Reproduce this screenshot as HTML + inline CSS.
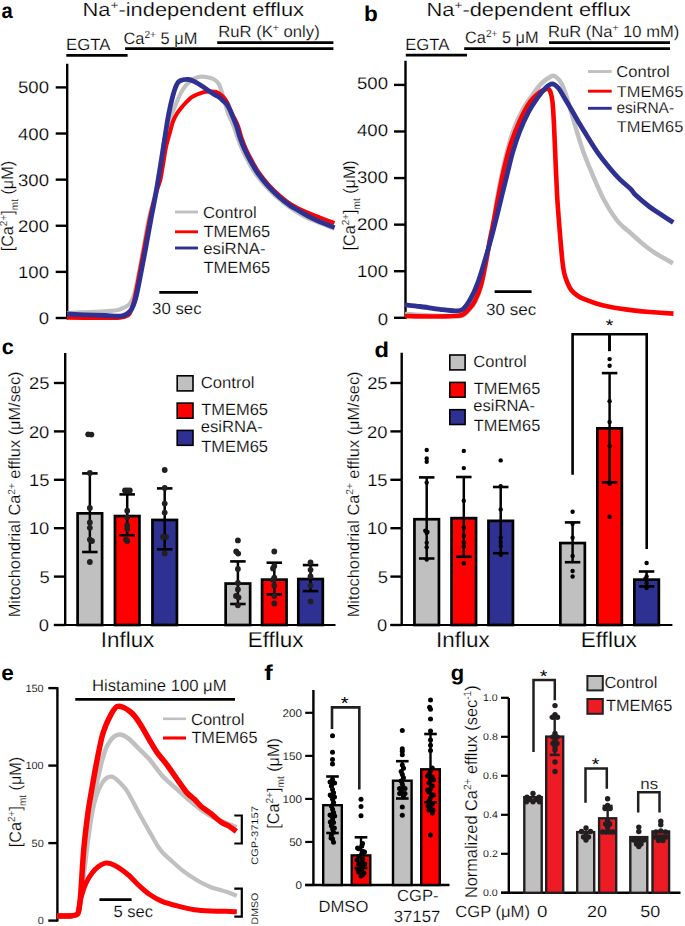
<!DOCTYPE html>
<html><head><meta charset="utf-8"><style>
html,body{margin:0;padding:0;background:#fff;}
body{width:685px;height:926px;overflow:hidden;}
svg{display:block;font-family:"Liberation Sans", sans-serif;text-rendering:geometricPrecision;}
</style></head><body>
<svg width="685" height="926" viewBox="0 0 685 926">
<rect width="685" height="926" fill="#fff"/>
<text x="0" y="0" font-size="21.5" font-weight="bold" fill="#000" transform="translate(1.44,18.00) scale(0.9385,1)"><tspan dy="0.00" font-size="21.50">a</tspan></text>
<text x="0" y="0" font-size="19" font-weight="normal" fill="#000" stroke="#fff" stroke-width="0.2" transform="translate(82.58,16.10) scale(1.1506,1)"><tspan dy="0.00" font-size="19.00">Na</tspan><tspan dy="-6.84" font-size="11.78">+</tspan><tspan dy="6.84" font-size="19.00">-independent efflux</tspan></text>
<text x="0" y="0" font-size="16.3" font-weight="normal" fill="#000" stroke="#fff" stroke-width="0.2" transform="translate(66.05,49.80) scale(1.0259,1)"><tspan dy="0.00" font-size="16.30">EGTA</tspan></text>
<line x1="66.30" y1="55.40" x2="127.60" y2="55.40" stroke="#000" stroke-width="2.8" stroke-linecap="butt"/>
<line x1="125.10" y1="48.70" x2="333.40" y2="48.70" stroke="#000" stroke-width="2.8" stroke-linecap="butt"/>
<text x="0" y="0" font-size="16.6" font-weight="normal" fill="#000" stroke="#fff" stroke-width="0.2" transform="translate(123.53,43.50) scale(0.9871,1)"><tspan dy="0.00" font-size="16.60">Ca</tspan><tspan dy="-5.98" font-size="10.29">2+</tspan><tspan dy="5.98" font-size="16.60"> 5 μM</tspan></text>
<line x1="217.20" y1="42.70" x2="333.40" y2="42.70" stroke="#000" stroke-width="2.8" stroke-linecap="butt"/>
<text x="0" y="0" font-size="16.2" font-weight="normal" fill="#000" stroke="#fff" stroke-width="0.2" transform="translate(218.16,36.70) scale(1.0307,1)"><tspan dy="0.00" font-size="16.20">RuR (K</tspan><tspan dy="-5.83" font-size="10.04">+</tspan><tspan dy="5.83" font-size="16.20"> only)</tspan></text>
<line x1="67.20" y1="63.70" x2="67.20" y2="319.20" stroke="#000" stroke-width="2.4" stroke-linecap="butt"/>
<line x1="55.70" y1="318.00" x2="67.20" y2="318.00" stroke="#000" stroke-width="2.4" stroke-linecap="butt"/>
<text x="0" y="0" font-size="16.9" font-weight="normal" fill="#000" stroke="#fff" stroke-width="0.2" transform="translate(38.67,324.00) scale(1.1000,1)"><tspan dy="0.00" font-size="16.90">0</tspan></text>
<line x1="55.70" y1="271.88" x2="67.20" y2="271.88" stroke="#000" stroke-width="2.4" stroke-linecap="butt"/>
<text x="0" y="0" font-size="16.9" font-weight="normal" fill="#000" stroke="#fff" stroke-width="0.2" transform="translate(18.01,277.88) scale(1.1000,1)"><tspan dy="0.00" font-size="16.90">100</tspan></text>
<line x1="55.70" y1="225.76" x2="67.20" y2="225.76" stroke="#000" stroke-width="2.4" stroke-linecap="butt"/>
<text x="0" y="0" font-size="16.9" font-weight="normal" fill="#000" stroke="#fff" stroke-width="0.2" transform="translate(18.01,231.76) scale(1.1000,1)"><tspan dy="0.00" font-size="16.90">200</tspan></text>
<line x1="55.70" y1="179.64" x2="67.20" y2="179.64" stroke="#000" stroke-width="2.4" stroke-linecap="butt"/>
<text x="0" y="0" font-size="16.9" font-weight="normal" fill="#000" stroke="#fff" stroke-width="0.2" transform="translate(18.01,185.64) scale(1.1000,1)"><tspan dy="0.00" font-size="16.90">300</tspan></text>
<line x1="55.70" y1="133.52" x2="67.20" y2="133.52" stroke="#000" stroke-width="2.4" stroke-linecap="butt"/>
<text x="0" y="0" font-size="16.9" font-weight="normal" fill="#000" stroke="#fff" stroke-width="0.2" transform="translate(18.01,139.52) scale(1.1000,1)"><tspan dy="0.00" font-size="16.90">400</tspan></text>
<line x1="55.70" y1="87.40" x2="67.20" y2="87.40" stroke="#000" stroke-width="2.4" stroke-linecap="butt"/>
<text x="0" y="0" font-size="16.9" font-weight="normal" fill="#000" stroke="#fff" stroke-width="0.2" transform="translate(18.01,93.40) scale(1.1000,1)"><tspan dy="0.00" font-size="16.90">500</tspan></text>
<text x="0" y="0" font-size="16.7" font-weight="normal" fill="#000" stroke="#fff" stroke-width="0.2" transform="translate(13.30,251.32) rotate(-90) scale(0.9697,1)"><tspan dy="0.00" font-size="16.70">[Ca</tspan><tspan dy="-6.01" font-size="10.35">2+</tspan><tspan dy="6.01" font-size="16.70">]</tspan><tspan dy="5.01" font-size="10.35">mt</tspan><tspan dy="-5.01" font-size="16.70"> (μM)</tspan></text>
<path d="M67.00,313.00 C70.83,312.83 83.17,312.33 90.00,312.00 C96.83,311.67 103.33,311.33 108.00,311.00 C112.67,310.67 115.33,310.58 118.00,310.00 C120.67,309.42 122.08,308.50 124.00,307.50 C125.92,306.50 127.83,306.08 129.50,304.00 C131.17,301.92 132.50,299.83 134.00,295.00 C135.50,290.17 136.92,282.83 138.50,275.00 C140.08,267.17 141.78,257.33 143.50,248.00 C145.22,238.67 146.78,228.33 148.80,219.00 C150.82,209.67 153.60,201.67 155.60,192.00 C157.60,182.33 159.32,169.83 160.80,161.00 C162.28,152.17 163.47,144.33 164.50,139.00 C165.53,133.67 165.40,134.10 167.00,129.00 C168.60,123.90 171.58,114.78 174.10,108.40 C176.62,102.02 179.43,95.25 182.10,90.70 C184.77,86.15 187.42,83.38 190.10,81.10 C192.78,78.82 195.52,77.68 198.20,77.00 C200.88,76.32 203.53,76.58 206.20,77.00 C208.87,77.42 212.07,78.28 214.20,79.50 C216.33,80.72 217.65,81.90 219.00,84.30 C220.35,86.70 221.30,90.78 222.30,93.90 C223.30,97.02 224.05,99.82 225.00,103.00 C225.95,106.18 227.00,110.17 228.00,113.00 C229.00,115.83 230.02,117.75 231.00,120.00 C231.98,122.25 232.82,123.57 233.90,126.50 C234.98,129.43 236.12,133.77 237.50,137.60 C238.88,141.43 240.42,145.55 242.20,149.50 C243.98,153.45 246.02,157.35 248.20,161.30 C250.38,165.25 252.53,169.23 255.30,173.20 C258.07,177.17 261.23,181.13 264.80,185.10 C268.37,189.07 272.50,193.27 276.70,197.00 C280.90,200.73 285.17,204.13 290.00,207.50 C294.83,210.87 300.70,214.62 305.70,217.20 C310.70,219.78 315.20,221.07 320.00,223.00 C324.80,224.93 332.08,227.83 334.50,228.80" fill="none" stroke="#c0c0c0" stroke-width="4.2" stroke-linejoin="round" stroke-linecap="butt"/>
<path d="M67.00,317.80 C72.50,317.83 91.50,317.97 100.00,318.00 C108.50,318.03 114.00,318.17 118.00,318.00 C122.00,317.83 122.08,317.67 124.00,317.00 C125.92,316.33 127.80,316.83 129.50,314.00 C131.20,311.17 132.57,306.67 134.20,300.00 C135.83,293.33 137.60,282.83 139.30,274.00 C141.00,265.17 142.65,256.28 144.40,247.00 C146.15,237.72 148.03,226.63 149.80,218.30 C151.57,209.97 153.63,202.22 155.00,197.00 C156.37,191.78 157.08,190.00 158.00,187.00 C158.92,184.00 159.58,183.17 160.50,179.00 C161.42,174.83 162.58,167.33 163.50,162.00 C164.42,156.67 165.00,151.67 166.00,147.00 C167.00,142.33 168.33,138.25 169.50,134.00 C170.67,129.75 171.75,124.92 173.00,121.50 C174.25,118.08 175.48,115.95 177.00,113.50 C178.52,111.05 179.63,109.53 182.10,106.80 C184.57,104.07 188.32,99.52 191.80,97.10 C195.28,94.68 199.97,93.23 203.00,92.30 C206.03,91.37 208.13,91.58 210.00,91.50 C211.87,91.42 212.97,91.63 214.20,91.80 C215.43,91.97 216.32,92.05 217.40,92.50 C218.48,92.95 219.52,93.53 220.70,94.50 C221.88,95.47 223.37,96.88 224.50,98.30 C225.63,99.72 226.58,101.22 227.50,103.00 C228.42,104.78 229.08,106.92 230.00,109.00 C230.92,111.08 231.68,112.72 233.00,115.50 C234.32,118.28 236.48,122.02 237.90,125.70 C239.32,129.38 240.12,133.63 241.50,137.60 C242.88,141.57 244.42,145.55 246.20,149.50 C247.98,153.45 250.02,157.35 252.20,161.30 C254.38,165.25 256.53,169.23 259.30,173.20 C262.07,177.17 265.23,181.22 268.80,185.10 C272.37,188.98 276.83,193.18 280.70,196.50 C284.57,199.82 287.83,202.45 292.00,205.00 C296.17,207.55 301.03,209.72 305.70,211.80 C310.37,213.88 315.20,215.63 320.00,217.50 C324.80,219.37 332.08,222.08 334.50,223.00" fill="none" stroke="#ff0000" stroke-width="4" stroke-linejoin="round" stroke-linecap="butt"/>
<path d="M67.00,314.00 C70.00,314.13 78.67,314.55 85.00,314.80 C91.33,315.05 98.78,315.33 105.00,315.50 C111.22,315.67 118.05,316.60 122.30,315.80 C126.55,315.00 128.27,313.62 130.50,310.70 C132.73,307.78 133.98,304.47 135.70,298.30 C137.42,292.13 139.10,282.25 140.80,273.70 C142.50,265.15 144.18,256.23 145.90,247.00 C147.62,237.77 149.38,227.53 151.10,218.30 C152.82,209.07 154.50,201.18 156.20,191.60 C157.90,182.02 159.77,170.38 161.30,160.80 C162.83,151.22 164.17,141.90 165.40,134.10 C166.63,126.30 167.52,120.17 168.70,114.00 C169.88,107.83 171.20,101.93 172.50,97.10 C173.80,92.27 175.25,87.72 176.50,85.00 C177.75,82.28 178.00,81.72 180.00,80.80 C182.00,79.88 186.00,79.32 188.50,79.50 C191.00,79.68 192.58,80.70 195.00,81.90 C197.42,83.10 200.67,85.18 203.00,86.70 C205.33,88.22 207.13,89.70 209.00,91.00 C210.87,92.30 212.60,93.53 214.20,94.50 C215.80,95.47 216.98,95.63 218.60,96.80 C220.22,97.97 222.52,100.22 223.90,101.50 C225.28,102.78 226.00,103.33 226.90,104.50 C227.80,105.67 228.52,106.95 229.30,108.50 C230.08,110.05 230.42,110.93 231.60,113.80 C232.78,116.67 235.00,121.73 236.40,125.70 C237.80,129.67 238.62,133.63 240.00,137.60 C241.38,141.57 242.92,145.55 244.70,149.50 C246.48,153.45 248.52,157.35 250.70,161.30 C252.88,165.25 255.03,169.23 257.80,173.20 C260.57,177.17 263.73,181.13 267.30,185.10 C270.87,189.07 275.42,193.60 279.20,197.00 C282.98,200.40 286.80,203.25 290.00,205.50 C293.20,207.75 294.57,208.32 298.40,210.50 C302.23,212.68 306.98,215.75 313.00,218.60 C319.02,221.45 330.92,226.10 334.50,227.60" fill="none" stroke="#2e3192" stroke-width="4.8" stroke-linejoin="round" stroke-linecap="butt"/>
<line x1="175.00" y1="212.00" x2="198.00" y2="212.00" stroke="#c0c0c0" stroke-width="2.9" stroke-linecap="butt"/>
<line x1="175.00" y1="231.80" x2="198.00" y2="231.80" stroke="#ff0000" stroke-width="2.9" stroke-linecap="butt"/>
<line x1="175.00" y1="248.00" x2="198.00" y2="248.00" stroke="#2e3192" stroke-width="2.9" stroke-linecap="butt"/>
<text x="0" y="0" font-size="16.2" font-weight="normal" fill="#000" stroke="#fff" stroke-width="0.2" transform="translate(203.10,218.00) scale(1.0254,1)"><tspan dy="0.00" font-size="16.20">Control</tspan></text>
<text x="0" y="0" font-size="16.2" font-weight="normal" fill="#000" stroke="#fff" stroke-width="0.2" transform="translate(203.58,237.00) scale(1.0137,1)"><tspan dy="0.00" font-size="16.20">TMEM65</tspan></text>
<text x="0" y="0" font-size="16.2" font-weight="normal" fill="#000" stroke="#fff" stroke-width="0.2" transform="translate(203.16,254.00) scale(1.0363,1)"><tspan dy="0.00" font-size="16.20">esiRNA-</tspan></text>
<text x="0" y="0" font-size="16.2" font-weight="normal" fill="#000" stroke="#fff" stroke-width="0.2" transform="translate(203.58,273.20) scale(1.0137,1)"><tspan dy="0.00" font-size="16.20">TMEM65</tspan></text>
<line x1="159.30" y1="292.40" x2="198.00" y2="292.40" stroke="#000" stroke-width="2.8" stroke-linecap="butt"/>
<text x="0" y="0" font-size="16.2" font-weight="normal" fill="#000" stroke="#fff" stroke-width="0.2" transform="translate(152.10,314.30) scale(1.0376,1)"><tspan dy="0.00" font-size="16.20">30 sec</tspan></text>
<text x="0" y="0" font-size="21.5" font-weight="bold" fill="#000" transform="translate(364.10,20.60) scale(1.0486,1)"><tspan dy="0.00" font-size="21.50">b</tspan></text>
<text x="0" y="0" font-size="19" font-weight="normal" fill="#000" stroke="#fff" stroke-width="0.2" transform="translate(426.59,16.10) scale(1.1492,1)"><tspan dy="0.00" font-size="19.00">Na</tspan><tspan dy="-6.84" font-size="11.78">+</tspan><tspan dy="6.84" font-size="19.00">-dependent efflux</tspan></text>
<text x="0" y="0" font-size="16.3" font-weight="normal" fill="#000" stroke="#fff" stroke-width="0.2" transform="translate(405.15,49.90) scale(1.0235,1)"><tspan dy="0.00" font-size="16.30">EGTA</tspan></text>
<line x1="405.80" y1="55.20" x2="467.00" y2="55.20" stroke="#000" stroke-width="2.8" stroke-linecap="butt"/>
<line x1="464.20" y1="48.70" x2="670.00" y2="48.70" stroke="#000" stroke-width="2.8" stroke-linecap="butt"/>
<text x="0" y="0" font-size="16.6" font-weight="normal" fill="#000" stroke="#fff" stroke-width="0.2" transform="translate(465.03,43.40) scale(0.9830,1)"><tspan dy="0.00" font-size="16.60">Ca</tspan><tspan dy="-5.98" font-size="10.29">2+</tspan><tspan dy="5.98" font-size="16.60"> 5 μM</tspan></text>
<line x1="549.00" y1="42.60" x2="670.00" y2="42.60" stroke="#000" stroke-width="2.8" stroke-linecap="butt"/>
<text x="0" y="0" font-size="16.2" font-weight="normal" fill="#000" stroke="#fff" stroke-width="0.2" transform="translate(548.07,36.50) scale(1.0235,1)"><tspan dy="0.00" font-size="16.20">RuR (Na</tspan><tspan dy="-5.83" font-size="10.04">+</tspan><tspan dy="5.83" font-size="16.20"> 10 mM)</tspan></text>
<line x1="405.50" y1="60.80" x2="405.50" y2="319.00" stroke="#000" stroke-width="2.4" stroke-linecap="butt"/>
<line x1="394.00" y1="317.80" x2="405.50" y2="317.80" stroke="#000" stroke-width="2.4" stroke-linecap="butt"/>
<text x="0" y="0" font-size="16.9" font-weight="normal" fill="#000" stroke="#fff" stroke-width="0.2" transform="translate(377.67,324.60) scale(1.1000,1)"><tspan dy="0.00" font-size="16.90">0</tspan></text>
<line x1="394.00" y1="271.22" x2="405.50" y2="271.22" stroke="#000" stroke-width="2.4" stroke-linecap="butt"/>
<text x="0" y="0" font-size="16.9" font-weight="normal" fill="#000" stroke="#fff" stroke-width="0.2" transform="translate(357.01,277.38) scale(1.1000,1)"><tspan dy="0.00" font-size="16.90">100</tspan></text>
<line x1="394.00" y1="224.64" x2="405.50" y2="224.64" stroke="#000" stroke-width="2.4" stroke-linecap="butt"/>
<text x="0" y="0" font-size="16.9" font-weight="normal" fill="#000" stroke="#fff" stroke-width="0.2" transform="translate(357.01,230.16) scale(1.1000,1)"><tspan dy="0.00" font-size="16.90">200</tspan></text>
<line x1="394.00" y1="178.06" x2="405.50" y2="178.06" stroke="#000" stroke-width="2.4" stroke-linecap="butt"/>
<text x="0" y="0" font-size="16.9" font-weight="normal" fill="#000" stroke="#fff" stroke-width="0.2" transform="translate(357.01,182.94) scale(1.1000,1)"><tspan dy="0.00" font-size="16.90">300</tspan></text>
<line x1="394.00" y1="131.48" x2="405.50" y2="131.48" stroke="#000" stroke-width="2.4" stroke-linecap="butt"/>
<text x="0" y="0" font-size="16.9" font-weight="normal" fill="#000" stroke="#fff" stroke-width="0.2" transform="translate(357.01,135.72) scale(1.1000,1)"><tspan dy="0.00" font-size="16.90">400</tspan></text>
<line x1="394.00" y1="84.90" x2="405.50" y2="84.90" stroke="#000" stroke-width="2.4" stroke-linecap="butt"/>
<text x="0" y="0" font-size="16.9" font-weight="normal" fill="#000" stroke="#fff" stroke-width="0.2" transform="translate(357.01,88.50) scale(1.1000,1)"><tspan dy="0.00" font-size="16.90">500</tspan></text>
<text x="0" y="0" font-size="16.7" font-weight="normal" fill="#000" stroke="#fff" stroke-width="0.2" transform="translate(355.20,250.52) rotate(-90) scale(0.9686,1)"><tspan dy="0.00" font-size="16.70">[Ca</tspan><tspan dy="-6.01" font-size="10.35">2+</tspan><tspan dy="6.01" font-size="16.70">]</tspan><tspan dy="5.01" font-size="10.35">mt</tspan><tspan dy="-5.01" font-size="16.70"> (μM)</tspan></text>
<path d="M405.00,314.00 C409.17,314.25 421.67,315.17 430.00,315.50 C438.33,315.83 449.55,316.00 455.00,316.00 C460.45,316.00 460.20,316.67 462.70,315.50 C465.20,314.33 467.98,311.17 470.00,309.00 C472.02,306.83 473.00,306.17 474.80,302.50 C476.60,298.83 479.02,293.08 480.80,287.00 C482.58,280.92 483.98,273.83 485.50,266.00 C487.02,258.17 488.48,247.83 489.90,240.00 C491.32,232.17 492.82,225.83 494.00,219.00 C495.18,212.17 495.58,207.00 497.00,199.00 C498.42,191.00 500.58,179.83 502.50,171.00 C504.42,162.17 506.48,153.33 508.50,146.00 C510.52,138.67 512.72,132.08 514.60,127.00 C516.48,121.92 517.93,119.25 519.80,115.50 C521.67,111.75 523.85,107.67 525.80,104.50 C527.75,101.33 529.62,99.17 531.50,96.50 C533.38,93.83 535.35,90.75 537.10,88.50 C538.85,86.25 540.25,84.67 542.00,83.00 C543.75,81.33 545.65,79.68 547.60,78.50 C549.55,77.32 551.65,75.52 553.70,75.90 C555.75,76.28 558.27,78.78 559.90,80.80 C561.53,82.82 562.32,85.13 563.50,88.00 C564.68,90.87 565.37,92.77 567.00,98.00 C568.63,103.23 570.67,110.68 573.30,119.40 C575.93,128.12 579.63,141.18 582.80,150.30 C585.97,159.42 588.73,165.78 592.30,174.10 C595.87,182.42 600.23,192.67 604.20,200.20 C608.17,207.73 612.80,214.75 616.10,219.30 C619.40,223.85 621.60,225.22 624.00,227.50 C626.40,229.78 627.83,230.67 630.50,233.00 C633.17,235.33 637.15,239.05 640.00,241.50 C642.85,243.95 645.08,245.78 647.60,247.70 C650.12,249.62 652.58,251.37 655.10,253.00 C657.62,254.63 659.72,255.80 662.70,257.50 C665.68,259.20 671.28,262.25 673.00,263.20" fill="none" stroke="#c0c0c0" stroke-width="4.5" stroke-linejoin="round" stroke-linecap="butt"/>
<path d="M405.00,316.00 C409.17,316.08 421.67,316.50 430.00,316.50 C438.33,316.50 449.55,316.32 455.00,316.00 C460.45,315.68 460.37,315.77 462.70,314.60 C465.03,313.43 466.98,311.27 469.00,309.00 C471.02,306.73 472.83,304.85 474.80,301.00 C476.77,297.15 479.02,292.07 480.80,285.90 C482.58,279.73 483.98,271.65 485.50,264.00 C487.02,256.35 488.48,247.33 489.90,240.00 C491.32,232.67 492.70,226.67 494.00,220.00 C495.30,213.33 496.07,208.32 497.70,200.00 C499.33,191.68 501.62,179.47 503.80,170.10 C505.98,160.73 508.17,151.97 510.80,143.80 C513.43,135.63 516.38,128.10 519.60,121.10 C522.82,114.10 526.90,106.48 530.10,101.80 C533.30,97.12 536.48,94.97 538.80,93.00 C541.12,91.03 542.53,90.72 544.00,90.00 C545.47,89.28 546.57,88.48 547.60,88.70 C548.63,88.92 549.38,89.08 550.20,91.30 C551.02,93.52 551.87,96.38 552.50,102.00 C553.13,107.62 553.50,115.33 554.00,125.00 C554.50,134.67 554.98,148.32 555.50,160.00 C556.02,171.68 556.52,184.77 557.10,195.10 C557.68,205.43 558.40,214.08 559.00,222.00 C559.60,229.92 560.12,235.93 560.70,242.60 C561.28,249.27 561.90,256.85 562.50,262.00 C563.10,267.15 563.47,270.00 564.30,273.50 C565.13,277.00 566.32,280.22 567.50,283.00 C568.68,285.78 569.65,288.03 571.40,290.20 C573.15,292.37 575.62,294.42 578.00,296.00 C580.38,297.58 582.53,298.40 585.70,299.70 C588.87,301.00 593.05,302.62 597.00,303.80 C600.95,304.98 605.40,305.97 609.40,306.80 C613.40,307.63 617.03,308.20 621.00,308.80 C624.97,309.40 628.37,309.87 633.20,310.40 C638.03,310.93 643.28,311.47 650.00,312.00 C656.72,312.53 669.58,313.33 673.50,313.60" fill="none" stroke="#ff0000" stroke-width="4.6" stroke-linejoin="round" stroke-linecap="butt"/>
<path d="M405.00,304.80 C407.50,305.08 414.17,305.75 420.00,306.50 C425.83,307.25 434.15,308.58 440.00,309.30 C445.85,310.02 451.32,310.80 455.10,310.80 C458.88,310.80 460.18,311.18 462.70,309.30 C465.22,307.42 467.68,303.92 470.20,299.50 C472.72,295.08 475.27,289.62 477.80,282.80 C480.33,275.98 483.13,266.15 485.40,258.60 C487.67,251.05 489.38,245.05 491.40,237.50 C493.42,229.95 495.73,220.38 497.50,213.30 C499.27,206.22 500.37,201.62 502.00,195.00 C503.63,188.38 505.53,180.67 507.30,173.60 C509.07,166.53 510.55,159.60 512.60,152.60 C514.65,145.60 516.98,138.32 519.60,131.60 C522.22,124.88 525.38,117.85 528.30,112.30 C531.22,106.75 534.18,102.38 537.10,98.30 C540.02,94.22 543.32,90.20 545.80,87.80 C548.28,85.40 549.95,83.90 552.00,83.90 C554.05,83.90 555.92,85.28 558.10,87.80 C560.28,90.32 562.70,95.05 565.10,99.00 C567.50,102.95 570.02,107.23 572.50,111.50 C574.98,115.77 577.42,120.27 580.00,124.60 C582.58,128.93 585.08,132.88 588.00,137.50 C590.92,142.12 594.17,147.55 597.50,152.30 C600.83,157.05 604.43,161.65 608.00,166.00 C611.57,170.35 615.10,174.55 618.90,178.40 C622.70,182.25 628.02,186.32 630.80,189.10 C633.58,191.88 632.43,192.12 635.60,195.10 C638.77,198.08 645.57,203.77 649.80,207.00 C654.03,210.23 657.08,211.90 661.00,214.50 C664.92,217.10 671.25,221.25 673.30,222.60" fill="none" stroke="#2e3192" stroke-width="4.8" stroke-linejoin="round" stroke-linecap="butt"/>
<line x1="588.00" y1="71.50" x2="611.70" y2="71.50" stroke="#c0c0c0" stroke-width="2.9" stroke-linecap="butt"/>
<line x1="588.00" y1="91.20" x2="611.70" y2="91.20" stroke="#ff0000" stroke-width="2.9" stroke-linecap="butt"/>
<line x1="588.00" y1="108.30" x2="611.70" y2="108.30" stroke="#2e3192" stroke-width="2.9" stroke-linecap="butt"/>
<text x="0" y="0" font-size="15.8" font-weight="normal" fill="#000" stroke="#fff" stroke-width="0.2" transform="translate(616.29,77.30) scale(1.0487,1)"><tspan dy="0.00" font-size="15.80">Control</tspan></text>
<text x="0" y="0" font-size="15.8" font-weight="normal" fill="#000" stroke="#fff" stroke-width="0.2" transform="translate(616.73,96.80) scale(1.0381,1)"><tspan dy="0.00" font-size="15.80">TMEM65</tspan></text>
<text x="0" y="0" font-size="15.8" font-weight="normal" fill="#000" stroke="#fff" stroke-width="0.2" transform="translate(616.42,113.30) scale(0.9804,1)"><tspan dy="0.00" font-size="15.80">esiRNA-</tspan></text>
<text x="0" y="0" font-size="15.8" font-weight="normal" fill="#000" stroke="#fff" stroke-width="0.2" transform="translate(616.73,132.00) scale(1.0381,1)"><tspan dy="0.00" font-size="15.80">TMEM65</tspan></text>
<line x1="494.60" y1="291.70" x2="531.60" y2="291.70" stroke="#000" stroke-width="2.8" stroke-linecap="butt"/>
<text x="0" y="0" font-size="16.2" font-weight="normal" fill="#000" stroke="#fff" stroke-width="0.2" transform="translate(486.09,314.50) scale(1.0549,1)"><tspan dy="0.00" font-size="16.20">30 sec</tspan></text>
<text x="0" y="0" font-size="21.5" font-weight="bold" fill="#000" transform="translate(1.71,354.20) scale(1.0108,1)"><tspan dy="0.00" font-size="21.50">c</tspan></text>
<line x1="65.20" y1="353.00" x2="65.20" y2="626.00" stroke="#000" stroke-width="2.4" stroke-linecap="butt"/>
<line x1="53.90" y1="625.00" x2="335.50" y2="625.00" stroke="#000" stroke-width="2.2" stroke-linecap="butt"/>
<line x1="53.90" y1="625.00" x2="65.20" y2="625.00" stroke="#000" stroke-width="2.4" stroke-linecap="butt"/>
<text x="0" y="0" font-size="17" font-weight="normal" fill="#000" stroke="#fff" stroke-width="0.2" transform="translate(38.82,631.10) scale(1.0800,1)"><tspan dy="0.00" font-size="17.00">0</tspan></text>
<line x1="53.90" y1="576.60" x2="65.20" y2="576.60" stroke="#000" stroke-width="2.4" stroke-linecap="butt"/>
<text x="0" y="0" font-size="17" font-weight="normal" fill="#000" stroke="#fff" stroke-width="0.2" transform="translate(39.43,582.70) scale(1.0800,1)"><tspan dy="0.00" font-size="17.00">5</tspan></text>
<line x1="53.90" y1="528.20" x2="65.20" y2="528.20" stroke="#000" stroke-width="2.4" stroke-linecap="butt"/>
<text x="0" y="0" font-size="17" font-weight="normal" fill="#000" stroke="#fff" stroke-width="0.2" transform="translate(28.90,534.30) scale(1.0800,1)"><tspan dy="0.00" font-size="17.00">10</tspan></text>
<line x1="53.90" y1="479.80" x2="65.20" y2="479.80" stroke="#000" stroke-width="2.4" stroke-linecap="butt"/>
<text x="0" y="0" font-size="17" font-weight="normal" fill="#000" stroke="#fff" stroke-width="0.2" transform="translate(28.96,485.90) scale(1.0800,1)"><tspan dy="0.00" font-size="17.00">15</tspan></text>
<line x1="53.90" y1="431.40" x2="65.20" y2="431.40" stroke="#000" stroke-width="2.4" stroke-linecap="butt"/>
<text x="0" y="0" font-size="17" font-weight="normal" fill="#000" stroke="#fff" stroke-width="0.2" transform="translate(28.90,437.50) scale(1.0800,1)"><tspan dy="0.00" font-size="17.00">20</tspan></text>
<line x1="53.90" y1="383.00" x2="65.20" y2="383.00" stroke="#000" stroke-width="2.4" stroke-linecap="butt"/>
<text x="0" y="0" font-size="17" font-weight="normal" fill="#000" stroke="#fff" stroke-width="0.2" transform="translate(28.96,389.10) scale(1.0800,1)"><tspan dy="0.00" font-size="17.00">25</tspan></text>
<text x="0" y="0" font-size="16.3" font-weight="normal" fill="#000" stroke="#fff" stroke-width="0.2" transform="translate(20.40,617.33) rotate(-90) scale(1.0035,1)"><tspan dy="0.00" font-size="16.30">Mitochondrial Ca</tspan><tspan dy="-5.87" font-size="10.11">2+</tspan><tspan dy="5.87" font-size="16.30"> efflux (μM/sec)</tspan></text>
<rect x="77.60" y="513.35" width="24.50" height="111.65" fill="#c0c0c0" stroke="#000" stroke-width="2.7"/>
<line x1="89.85" y1="473.40" x2="89.85" y2="552.00" stroke="#000" stroke-width="2.5" stroke-linecap="butt"/>
<line x1="82.10" y1="473.40" x2="97.60" y2="473.40" stroke="#000" stroke-width="2.6" stroke-linecap="butt"/>
<line x1="82.10" y1="552.00" x2="97.60" y2="552.00" stroke="#000" stroke-width="2.6" stroke-linecap="butt"/>
<circle cx="88.20" cy="434.30" r="2.9" fill="#231f20"/>
<circle cx="91.40" cy="434.60" r="2.9" fill="#231f20"/>
<circle cx="89.85" cy="473.00" r="2.9" fill="#231f20"/>
<circle cx="89.85" cy="508.00" r="2.9" fill="#231f20"/>
<circle cx="89.85" cy="522.50" r="2.9" fill="#231f20"/>
<circle cx="89.85" cy="527.80" r="2.9" fill="#231f20"/>
<circle cx="89.85" cy="539.60" r="2.9" fill="#231f20"/>
<circle cx="92.00" cy="541.00" r="2.9" fill="#231f20"/>
<circle cx="89.85" cy="562.00" r="2.9" fill="#231f20"/>
<rect x="114.95" y="516.05" width="24.50" height="108.95" fill="#ff0000" stroke="#000" stroke-width="2.7"/>
<line x1="127.20" y1="494.40" x2="127.20" y2="535.20" stroke="#000" stroke-width="2.5" stroke-linecap="butt"/>
<line x1="119.45" y1="494.40" x2="134.95" y2="494.40" stroke="#000" stroke-width="2.6" stroke-linecap="butt"/>
<line x1="119.45" y1="535.20" x2="134.95" y2="535.20" stroke="#000" stroke-width="2.6" stroke-linecap="butt"/>
<circle cx="125.00" cy="490.50" r="2.9" fill="#231f20"/>
<circle cx="127.40" cy="490.50" r="2.9" fill="#231f20"/>
<circle cx="129.80" cy="490.50" r="2.9" fill="#231f20"/>
<circle cx="127.20" cy="510.70" r="2.9" fill="#231f20"/>
<circle cx="127.20" cy="517.30" r="2.9" fill="#231f20"/>
<circle cx="127.20" cy="525.20" r="2.9" fill="#231f20"/>
<circle cx="127.20" cy="529.00" r="2.9" fill="#231f20"/>
<circle cx="126.00" cy="539.60" r="2.9" fill="#231f20"/>
<circle cx="127.20" cy="541.00" r="2.9" fill="#231f20"/>
<rect x="152.45" y="519.95" width="24.50" height="105.05" fill="#2e3192" stroke="#000" stroke-width="2.7"/>
<line x1="164.70" y1="488.40" x2="164.70" y2="549.30" stroke="#000" stroke-width="2.5" stroke-linecap="butt"/>
<line x1="156.95" y1="488.40" x2="172.45" y2="488.40" stroke="#000" stroke-width="2.6" stroke-linecap="butt"/>
<line x1="156.95" y1="549.30" x2="172.45" y2="549.30" stroke="#000" stroke-width="2.6" stroke-linecap="butt"/>
<circle cx="164.70" cy="470.00" r="2.9" fill="#231f20"/>
<circle cx="164.70" cy="487.90" r="2.9" fill="#231f20"/>
<circle cx="164.70" cy="503.60" r="2.9" fill="#231f20"/>
<circle cx="164.70" cy="512.60" r="2.9" fill="#231f20"/>
<circle cx="163.00" cy="537.00" r="2.9" fill="#231f20"/>
<circle cx="166.20" cy="537.00" r="2.9" fill="#231f20"/>
<circle cx="164.70" cy="553.50" r="2.9" fill="#231f20"/>
<rect x="225.65" y="583.55" width="24.50" height="41.45" fill="#c0c0c0" stroke="#000" stroke-width="2.7"/>
<line x1="237.90" y1="561.40" x2="237.90" y2="604.00" stroke="#000" stroke-width="2.5" stroke-linecap="butt"/>
<line x1="230.15" y1="561.40" x2="245.65" y2="561.40" stroke="#000" stroke-width="2.6" stroke-linecap="butt"/>
<line x1="230.15" y1="604.00" x2="245.65" y2="604.00" stroke="#000" stroke-width="2.6" stroke-linecap="butt"/>
<circle cx="237.90" cy="540.40" r="2.9" fill="#231f20"/>
<circle cx="236.20" cy="551.50" r="2.9" fill="#231f20"/>
<circle cx="238.20" cy="553.60" r="2.9" fill="#231f20"/>
<circle cx="237.90" cy="569.00" r="2.9" fill="#231f20"/>
<circle cx="237.90" cy="583.00" r="2.9" fill="#231f20"/>
<circle cx="237.90" cy="589.50" r="2.9" fill="#231f20"/>
<circle cx="236.00" cy="596.00" r="2.9" fill="#231f20"/>
<circle cx="238.50" cy="597.40" r="2.9" fill="#231f20"/>
<circle cx="237.90" cy="605.30" r="2.9" fill="#231f20"/>
<rect x="262.05" y="579.65" width="24.50" height="45.35" fill="#ff0000" stroke="#000" stroke-width="2.7"/>
<line x1="274.30" y1="562.70" x2="274.30" y2="594.30" stroke="#000" stroke-width="2.5" stroke-linecap="butt"/>
<line x1="266.55" y1="562.70" x2="282.05" y2="562.70" stroke="#000" stroke-width="2.6" stroke-linecap="butt"/>
<line x1="266.55" y1="594.30" x2="282.05" y2="594.30" stroke="#000" stroke-width="2.6" stroke-linecap="butt"/>
<circle cx="274.30" cy="551.50" r="2.9" fill="#231f20"/>
<circle cx="274.30" cy="565.90" r="2.9" fill="#231f20"/>
<circle cx="273.00" cy="568.50" r="2.9" fill="#231f20"/>
<circle cx="274.30" cy="577.70" r="2.9" fill="#231f20"/>
<circle cx="273.00" cy="579.80" r="2.9" fill="#231f20"/>
<circle cx="274.30" cy="585.60" r="2.9" fill="#231f20"/>
<circle cx="274.30" cy="596.00" r="2.9" fill="#231f20"/>
<circle cx="274.30" cy="603.50" r="2.9" fill="#231f20"/>
<rect x="298.30" y="579.05" width="24.50" height="45.95" fill="#2e3192" stroke="#000" stroke-width="2.7"/>
<line x1="310.55" y1="565.10" x2="310.55" y2="591.10" stroke="#000" stroke-width="2.5" stroke-linecap="butt"/>
<line x1="302.80" y1="565.10" x2="318.30" y2="565.10" stroke="#000" stroke-width="2.6" stroke-linecap="butt"/>
<line x1="302.80" y1="591.10" x2="318.30" y2="591.10" stroke="#000" stroke-width="2.6" stroke-linecap="butt"/>
<circle cx="310.55" cy="562.50" r="2.9" fill="#231f20"/>
<circle cx="310.55" cy="569.80" r="2.9" fill="#231f20"/>
<circle cx="310.55" cy="576.40" r="2.9" fill="#231f20"/>
<circle cx="310.55" cy="585.60" r="2.9" fill="#231f20"/>
<circle cx="310.55" cy="601.40" r="2.9" fill="#231f20"/>
<rect x="177.20" y="375.80" width="15.80" height="15.10" fill="#c0c0c0" stroke="#000" stroke-width="1.6"/>
<rect x="177.20" y="403.10" width="15.80" height="15.10" fill="#ff0000" stroke="#000" stroke-width="1.6"/>
<rect x="177.20" y="430.40" width="15.80" height="14.90" fill="#2e3192" stroke="#000" stroke-width="1.6"/>
<text x="0" y="0" font-size="16.2" font-weight="normal" fill="#000" stroke="#fff" stroke-width="0.2" transform="translate(200.70,387.80) scale(1.0313,1)"><tspan dy="0.00" font-size="16.20">Control</tspan></text>
<text x="0" y="0" font-size="16.2" font-weight="normal" fill="#000" stroke="#fff" stroke-width="0.2" transform="translate(201.18,414.50) scale(1.0183,1)"><tspan dy="0.00" font-size="16.20">TMEM65</tspan></text>
<text x="0" y="0" font-size="16.2" font-weight="normal" fill="#000" stroke="#fff" stroke-width="0.2" transform="translate(200.77,431.60) scale(1.0278,1)"><tspan dy="0.00" font-size="16.20">esiRNA-</tspan></text>
<text x="0" y="0" font-size="16.2" font-weight="normal" fill="#000" stroke="#fff" stroke-width="0.2" transform="translate(201.18,452.00) scale(1.0183,1)"><tspan dy="0.00" font-size="16.20">TMEM65</tspan></text>
<text x="0" y="0" font-size="21.6" font-weight="normal" fill="#000" stroke="#fff" stroke-width="0.2" transform="translate(100.84,646.80) scale(1.0360,1)"><tspan dy="0.00" font-size="21.60">Influx</tspan></text>
<text x="0" y="0" font-size="21.6" font-weight="normal" fill="#000" stroke="#fff" stroke-width="0.2" transform="translate(247.67,646.80) scale(1.0397,1)"><tspan dy="0.00" font-size="21.60">Efflux</tspan></text>
<text x="0" y="0" font-size="21.5" font-weight="bold" fill="#000" transform="translate(374.51,356.80) scale(1.1034,1)"><tspan dy="0.00" font-size="21.50">d</tspan></text>
<line x1="401.70" y1="352.80" x2="401.70" y2="626.00" stroke="#000" stroke-width="2.4" stroke-linecap="butt"/>
<line x1="390.40" y1="625.00" x2="672.40" y2="625.00" stroke="#000" stroke-width="2.2" stroke-linecap="butt"/>
<line x1="390.40" y1="625.00" x2="401.70" y2="625.00" stroke="#000" stroke-width="2.4" stroke-linecap="butt"/>
<text x="0" y="0" font-size="17" font-weight="normal" fill="#000" stroke="#fff" stroke-width="0.2" transform="translate(377.02,631.10) scale(1.0800,1)"><tspan dy="0.00" font-size="17.00">0</tspan></text>
<line x1="390.40" y1="576.60" x2="401.70" y2="576.60" stroke="#000" stroke-width="2.4" stroke-linecap="butt"/>
<text x="0" y="0" font-size="17" font-weight="normal" fill="#000" stroke="#fff" stroke-width="0.2" transform="translate(377.63,582.70) scale(1.0800,1)"><tspan dy="0.00" font-size="17.00">5</tspan></text>
<line x1="390.40" y1="528.20" x2="401.70" y2="528.20" stroke="#000" stroke-width="2.4" stroke-linecap="butt"/>
<text x="0" y="0" font-size="17" font-weight="normal" fill="#000" stroke="#fff" stroke-width="0.2" transform="translate(367.10,534.30) scale(1.0800,1)"><tspan dy="0.00" font-size="17.00">10</tspan></text>
<line x1="390.40" y1="479.80" x2="401.70" y2="479.80" stroke="#000" stroke-width="2.4" stroke-linecap="butt"/>
<text x="0" y="0" font-size="17" font-weight="normal" fill="#000" stroke="#fff" stroke-width="0.2" transform="translate(367.16,485.90) scale(1.0800,1)"><tspan dy="0.00" font-size="17.00">15</tspan></text>
<line x1="390.40" y1="431.40" x2="401.70" y2="431.40" stroke="#000" stroke-width="2.4" stroke-linecap="butt"/>
<text x="0" y="0" font-size="17" font-weight="normal" fill="#000" stroke="#fff" stroke-width="0.2" transform="translate(367.10,437.50) scale(1.0800,1)"><tspan dy="0.00" font-size="17.00">20</tspan></text>
<line x1="390.40" y1="383.00" x2="401.70" y2="383.00" stroke="#000" stroke-width="2.4" stroke-linecap="butt"/>
<text x="0" y="0" font-size="17" font-weight="normal" fill="#000" stroke="#fff" stroke-width="0.2" transform="translate(367.16,389.10) scale(1.0800,1)"><tspan dy="0.00" font-size="17.00">25</tspan></text>
<text x="0" y="0" font-size="16.3" font-weight="normal" fill="#000" stroke="#fff" stroke-width="0.2" transform="translate(359.10,617.33) rotate(-90) scale(1.0035,1)"><tspan dy="0.00" font-size="16.30">Mitochondrial Ca</tspan><tspan dy="-5.87" font-size="10.11">2+</tspan><tspan dy="5.87" font-size="16.30"> efflux (μM/sec)</tspan></text>
<rect x="414.45" y="519.25" width="24.50" height="105.75" fill="#c0c0c0" stroke="#000" stroke-width="2.7"/>
<line x1="426.70" y1="477.40" x2="426.70" y2="558.50" stroke="#000" stroke-width="2.5" stroke-linecap="butt"/>
<line x1="418.95" y1="477.40" x2="434.45" y2="477.40" stroke="#000" stroke-width="2.6" stroke-linecap="butt"/>
<line x1="418.95" y1="558.50" x2="434.45" y2="558.50" stroke="#000" stroke-width="2.6" stroke-linecap="butt"/>
<circle cx="426.70" cy="450.00" r="2.2" fill="#000"/>
<circle cx="426.70" cy="458.50" r="2.2" fill="#000"/>
<circle cx="426.70" cy="461.70" r="2.2" fill="#000"/>
<circle cx="426.70" cy="482.60" r="2.2" fill="#000"/>
<circle cx="425.30" cy="530.70" r="2.2" fill="#000"/>
<circle cx="427.50" cy="531.90" r="2.2" fill="#000"/>
<circle cx="426.70" cy="533.00" r="2.2" fill="#000"/>
<circle cx="426.70" cy="542.80" r="2.2" fill="#000"/>
<circle cx="426.70" cy="547.30" r="2.2" fill="#000"/>
<circle cx="426.70" cy="559.60" r="2.2" fill="#000"/>
<rect x="451.55" y="518.15" width="24.50" height="106.85" fill="#ff0000" stroke="#000" stroke-width="2.7"/>
<line x1="463.80" y1="477.00" x2="463.80" y2="556.80" stroke="#000" stroke-width="2.5" stroke-linecap="butt"/>
<line x1="456.05" y1="477.00" x2="471.55" y2="477.00" stroke="#000" stroke-width="2.6" stroke-linecap="butt"/>
<line x1="456.05" y1="556.80" x2="471.55" y2="556.80" stroke="#000" stroke-width="2.6" stroke-linecap="butt"/>
<circle cx="463.80" cy="450.90" r="2.2" fill="#000"/>
<circle cx="463.80" cy="468.10" r="2.2" fill="#000"/>
<circle cx="463.80" cy="500.70" r="2.2" fill="#000"/>
<circle cx="463.80" cy="527.50" r="2.2" fill="#000"/>
<circle cx="463.80" cy="536.00" r="2.2" fill="#000"/>
<circle cx="463.80" cy="542.50" r="2.2" fill="#000"/>
<circle cx="463.80" cy="546.30" r="2.2" fill="#000"/>
<circle cx="463.80" cy="563.30" r="2.2" fill="#000"/>
<rect x="488.45" y="520.85" width="24.50" height="104.15" fill="#2e3192" stroke="#000" stroke-width="2.7"/>
<line x1="500.70" y1="487.00" x2="500.70" y2="553.20" stroke="#000" stroke-width="2.5" stroke-linecap="butt"/>
<line x1="492.95" y1="487.00" x2="508.45" y2="487.00" stroke="#000" stroke-width="2.6" stroke-linecap="butt"/>
<line x1="492.95" y1="553.20" x2="508.45" y2="553.20" stroke="#000" stroke-width="2.6" stroke-linecap="butt"/>
<circle cx="500.70" cy="460.40" r="2.2" fill="#000"/>
<circle cx="500.70" cy="486.30" r="2.2" fill="#000"/>
<circle cx="500.70" cy="509.40" r="2.2" fill="#000"/>
<circle cx="500.70" cy="537.60" r="2.2" fill="#000"/>
<circle cx="500.70" cy="542.00" r="2.2" fill="#000"/>
<circle cx="500.70" cy="546.00" r="2.2" fill="#000"/>
<circle cx="500.70" cy="554.80" r="2.2" fill="#000"/>
<rect x="560.35" y="543.05" width="24.50" height="81.95" fill="#c0c0c0" stroke="#000" stroke-width="2.7"/>
<line x1="572.60" y1="522.40" x2="572.60" y2="562.20" stroke="#000" stroke-width="2.5" stroke-linecap="butt"/>
<line x1="564.85" y1="522.40" x2="580.35" y2="522.40" stroke="#000" stroke-width="2.6" stroke-linecap="butt"/>
<line x1="564.85" y1="562.20" x2="580.35" y2="562.20" stroke="#000" stroke-width="2.6" stroke-linecap="butt"/>
<circle cx="572.60" cy="511.70" r="2.2" fill="#000"/>
<circle cx="572.60" cy="523.80" r="2.2" fill="#000"/>
<circle cx="572.60" cy="537.80" r="2.2" fill="#000"/>
<circle cx="572.60" cy="556.00" r="2.2" fill="#000"/>
<circle cx="572.60" cy="571.00" r="2.2" fill="#000"/>
<circle cx="572.60" cy="576.50" r="2.2" fill="#000"/>
<rect x="597.35" y="428.35" width="24.50" height="196.65" fill="#ff0000" stroke="#000" stroke-width="2.7"/>
<line x1="609.60" y1="373.10" x2="609.60" y2="482.30" stroke="#000" stroke-width="2.5" stroke-linecap="butt"/>
<line x1="601.85" y1="373.10" x2="617.35" y2="373.10" stroke="#000" stroke-width="2.6" stroke-linecap="butt"/>
<line x1="601.85" y1="482.30" x2="617.35" y2="482.30" stroke="#000" stroke-width="2.6" stroke-linecap="butt"/>
<circle cx="609.60" cy="359.10" r="2.2" fill="#000"/>
<circle cx="609.60" cy="365.80" r="2.2" fill="#000"/>
<circle cx="609.60" cy="401.20" r="2.2" fill="#000"/>
<circle cx="609.60" cy="421.90" r="2.2" fill="#000"/>
<circle cx="609.60" cy="446.10" r="2.2" fill="#000"/>
<circle cx="609.60" cy="483.70" r="2.2" fill="#000"/>
<circle cx="609.60" cy="516.80" r="2.2" fill="#000"/>
<rect x="634.35" y="579.65" width="24.50" height="45.35" fill="#2e3192" stroke="#000" stroke-width="2.7"/>
<line x1="646.60" y1="571.50" x2="646.60" y2="586.40" stroke="#000" stroke-width="2.5" stroke-linecap="butt"/>
<line x1="638.85" y1="571.50" x2="654.35" y2="571.50" stroke="#000" stroke-width="2.6" stroke-linecap="butt"/>
<line x1="638.85" y1="586.40" x2="654.35" y2="586.40" stroke="#000" stroke-width="2.6" stroke-linecap="butt"/>
<circle cx="646.60" cy="563.00" r="2.2" fill="#000"/>
<circle cx="646.60" cy="576.40" r="2.2" fill="#000"/>
<circle cx="645.20" cy="579.00" r="2.2" fill="#000"/>
<circle cx="646.60" cy="583.00" r="2.2" fill="#000"/>
<circle cx="646.60" cy="588.00" r="2.2" fill="#000"/>
<polyline points="572.60,474.70 572.60,334.30 646.70,334.30 646.70,549.00" fill="none" stroke="#000" stroke-width="2.6" stroke-linejoin="miter"/>
<line x1="609.50" y1="334.30" x2="609.50" y2="351.20" stroke="#000" stroke-width="2.9" stroke-linecap="butt"/>
<text x="0" y="0" font-size="14" font-weight="normal" fill="#000" transform="translate(605.84,331.06) scale(1.3742,1.1925)"><tspan dy="0.00" font-size="14.00">*</tspan></text>
<rect x="449.80" y="355.00" width="15.30" height="14.90" fill="#c0c0c0" stroke="#000" stroke-width="1.6"/>
<rect x="449.80" y="382.40" width="15.30" height="14.80" fill="#ff0000" stroke="#000" stroke-width="1.6"/>
<rect x="449.80" y="409.70" width="15.30" height="14.80" fill="#2e3192" stroke="#000" stroke-width="1.6"/>
<text x="0" y="0" font-size="16.2" font-weight="normal" fill="#000" stroke="#fff" stroke-width="0.2" transform="translate(473.31,366.70) scale(1.0214,1)"><tspan dy="0.00" font-size="16.20">Control</tspan></text>
<text x="0" y="0" font-size="16.2" font-weight="normal" fill="#000" stroke="#fff" stroke-width="0.2" transform="translate(473.78,393.50) scale(1.0122,1)"><tspan dy="0.00" font-size="16.20">TMEM65</tspan></text>
<text x="0" y="0" font-size="16.2" font-weight="normal" fill="#000" stroke="#fff" stroke-width="0.2" transform="translate(473.37,410.80) scale(1.0209,1)"><tspan dy="0.00" font-size="16.20">esiRNA-</tspan></text>
<text x="0" y="0" font-size="16.2" font-weight="normal" fill="#000" stroke="#fff" stroke-width="0.2" transform="translate(473.78,430.90) scale(1.0122,1)"><tspan dy="0.00" font-size="16.20">TMEM65</tspan></text>
<text x="0" y="0" font-size="21.6" font-weight="normal" fill="#000" stroke="#fff" stroke-width="0.2" transform="translate(436.04,646.80) scale(1.0381,1)"><tspan dy="0.00" font-size="21.60">Influx</tspan></text>
<text x="0" y="0" font-size="21.6" font-weight="normal" fill="#000" stroke="#fff" stroke-width="0.2" transform="translate(580.66,646.80) scale(1.0476,1)"><tspan dy="0.00" font-size="21.60">Efflux</tspan></text>
<text x="0" y="0" font-size="21.5" font-weight="bold" fill="#000" transform="translate(1.28,680.40) scale(1.0487,1)"><tspan dy="0.00" font-size="21.50">e</tspan></text>
<line x1="57.40" y1="687.20" x2="57.40" y2="921.50" stroke="#000" stroke-width="2.4" stroke-linecap="butt"/>
<line x1="48.30" y1="920.60" x2="57.40" y2="920.60" stroke="#000" stroke-width="2.4" stroke-linecap="butt"/>
<text x="0" y="0" font-size="10.5" font-weight="normal" fill="#000" stroke="#fff" stroke-width="0.1" transform="translate(37.63,924.30) scale(1.0400,1)"><tspan dy="0.00" font-size="10.50">0</tspan></text>
<line x1="48.30" y1="843.10" x2="57.40" y2="843.10" stroke="#000" stroke-width="2.4" stroke-linecap="butt"/>
<text x="0" y="0" font-size="10.5" font-weight="normal" fill="#000" stroke="#fff" stroke-width="0.1" transform="translate(31.62,846.80) scale(1.0400,1)"><tspan dy="0.00" font-size="10.50">50</tspan></text>
<line x1="48.30" y1="765.60" x2="57.40" y2="765.60" stroke="#000" stroke-width="2.4" stroke-linecap="butt"/>
<text x="0" y="0" font-size="10.5" font-weight="normal" fill="#000" stroke="#fff" stroke-width="0.1" transform="translate(25.38,769.30) scale(1.0400,1)"><tspan dy="0.00" font-size="10.50">100</tspan></text>
<line x1="48.30" y1="688.10" x2="57.40" y2="688.10" stroke="#000" stroke-width="2.4" stroke-linecap="butt"/>
<text x="0" y="0" font-size="10.5" font-weight="normal" fill="#000" stroke="#fff" stroke-width="0.1" transform="translate(25.38,691.80) scale(1.0400,1)"><tspan dy="0.00" font-size="10.50">150</tspan></text>
<text x="0" y="0" font-size="16.7" font-weight="normal" fill="#000" stroke="#fff" stroke-width="0.2" transform="translate(21.40,847.22) rotate(-90) scale(0.9697,1)"><tspan dy="0.00" font-size="16.70">[Ca</tspan><tspan dy="-6.01" font-size="10.35">2+</tspan><tspan dy="6.01" font-size="16.70">]</tspan><tspan dy="5.01" font-size="10.35">mt</tspan><tspan dy="-5.01" font-size="16.70"> (μM)</tspan></text>
<line x1="75.30" y1="699.40" x2="235.00" y2="699.40" stroke="#000" stroke-width="2.7" stroke-linecap="butt"/>
<text x="0" y="0" font-size="16.3" font-weight="normal" fill="#000" stroke="#fff" stroke-width="0.2" transform="translate(91.97,691.30) scale(1.0235,1)"><tspan dy="0.00" font-size="16.30">Histamine 100 μM</tspan></text>
<path d="M57.40,916.00 C58.89,916.00 67.81,916.29 70.20,916.00 C72.59,915.71 76.70,915.72 77.90,913.50 C79.10,911.28 79.81,903.48 80.50,897.00 C81.19,890.52 82.87,866.75 83.80,858.00 C84.73,849.25 87.48,828.77 88.50,822.00 C89.52,815.23 91.56,804.43 92.50,800.00 C93.44,795.57 95.61,788.11 96.60,784.00 C97.59,779.89 100.14,768.30 101.00,764.80 C101.86,761.30 103.25,756.26 104.00,754.00 C104.75,751.74 106.25,747.42 107.40,745.40 C108.56,743.38 112.38,737.96 113.90,736.70 C115.42,735.44 118.64,734.34 120.40,734.60 C122.16,734.86 126.74,737.14 129.00,738.90 C131.26,740.66 137.35,747.24 139.80,749.70 C142.25,752.16 147.28,756.84 150.00,760.00 C152.72,763.16 160.03,773.46 163.10,776.80 C166.17,780.14 173.23,785.85 176.30,788.60 C179.37,791.35 186.33,797.79 189.40,800.40 C192.47,803.01 199.53,808.85 202.60,811.00 C205.67,813.15 212.64,817.27 215.70,818.80 C218.76,820.33 226.35,823.10 228.80,824.10 C231.25,825.10 235.78,827.01 236.70,827.40" fill="none" stroke="#c0c0c0" stroke-width="4.5" stroke-linejoin="round" stroke-linecap="butt"/>
<path d="M57.40,916.00 C58.89,916.00 67.81,916.29 70.20,916.00 C72.59,915.71 76.70,915.72 77.90,913.50 C79.10,911.28 79.71,902.25 80.50,897.00 C81.29,891.75 83.83,875.10 84.70,868.50 C85.58,861.90 87.11,846.96 88.00,840.40 C88.89,833.84 91.30,817.60 92.30,812.30 C93.30,807.00 95.47,798.39 96.60,795.00 C97.73,791.61 100.90,785.12 102.00,783.20 C103.10,781.28 105.00,779.26 106.00,778.50 C107.00,777.74 109.67,776.82 110.60,776.70 C111.53,776.58 113.11,777.00 114.00,777.50 C114.89,778.00 116.71,779.46 118.20,781.00 C119.69,782.54 124.28,786.79 126.80,790.70 C129.32,794.61 137.50,810.32 139.80,814.50 C142.10,818.68 144.98,823.82 146.50,826.50 C148.02,829.18 151.46,835.17 152.80,837.50 C154.14,839.83 156.81,844.69 158.00,846.50 C159.19,848.31 161.59,851.47 163.00,853.00 C164.41,854.53 167.77,857.51 170.10,859.60 C172.43,861.69 179.81,868.46 183.00,870.90 C186.19,873.34 194.22,878.63 197.40,880.50 C200.59,882.37 206.92,885.58 210.30,886.90 C213.68,888.22 223.31,890.76 226.40,891.80 C229.49,892.84 235.59,895.33 236.80,895.80" fill="none" stroke="#c0c0c0" stroke-width="4.3" stroke-linejoin="round" stroke-linecap="butt"/>
<path d="M57.40,916.00 C58.89,916.00 67.81,916.29 70.20,916.00 C72.59,915.71 76.71,915.37 77.90,913.50 C79.09,911.63 79.48,903.49 80.40,900.00 C81.32,896.51 84.41,886.77 85.80,883.60 C87.19,880.43 90.78,874.82 92.30,872.80 C93.82,870.78 97.30,867.43 98.80,866.30 C100.30,865.17 103.82,863.40 105.20,863.10 C106.58,862.80 109.08,863.20 110.60,863.70 C112.12,864.20 116.05,866.02 118.20,867.40 C120.35,868.78 126.50,873.32 129.00,875.50 C131.50,877.68 137.23,883.92 139.60,886.10 C141.97,888.28 146.68,892.42 149.30,894.20 C151.93,895.99 158.73,900.00 162.10,901.40 C165.47,902.80 174.45,905.23 178.20,906.20 C181.94,907.17 190.45,909.14 194.20,909.70 C197.94,910.26 206.54,910.81 210.30,911.00 C214.06,911.19 223.31,911.21 226.40,911.30 C229.49,911.39 235.59,911.74 236.80,911.80" fill="none" stroke="#ff0000" stroke-width="5" stroke-linejoin="round" stroke-linecap="butt"/>
<path d="M57.40,916.00 C58.89,916.00 67.81,916.29 70.20,916.00 C72.59,915.71 76.70,915.72 77.90,913.50 C79.10,911.28 79.84,904.29 80.50,897.00 C81.16,889.71 82.72,860.88 83.60,851.00 C84.47,841.12 86.98,819.84 88.00,812.30 C89.02,804.76 91.30,792.20 92.30,786.40 C93.30,780.60 95.47,768.40 96.60,762.60 C97.73,756.80 100.90,741.09 102.00,736.70 C103.10,732.31 105.11,727.26 106.00,725.00 C106.89,722.74 108.78,718.93 109.60,717.30 C110.42,715.67 112.12,712.26 113.00,711.00 C113.88,709.74 115.86,706.91 117.10,706.50 C118.34,706.09 122.09,706.92 123.60,707.50 C125.10,708.08 128.67,710.45 130.00,711.50 C131.33,712.55 133.60,714.69 135.00,716.50 C136.40,718.31 140.25,724.14 142.00,727.00 C143.75,729.86 148.30,738.11 150.00,741.00 C151.70,743.89 154.60,749.00 156.60,751.80 C158.59,754.60 164.80,761.93 167.10,765.00 C169.40,768.07 174.00,774.88 176.30,778.10 C178.60,781.32 184.65,790.09 186.80,792.60 C188.95,795.11 193.02,797.98 194.70,799.60 C196.38,801.22 199.37,804.91 201.20,806.50 C203.03,808.09 208.09,811.39 210.40,813.20 C212.71,815.01 218.85,820.51 221.00,822.00 C223.15,823.49 227.02,824.89 228.80,826.00 C230.59,827.11 235.43,830.86 236.30,831.50" fill="none" stroke="#ff0000" stroke-width="5.5" stroke-linejoin="round" stroke-linecap="butt"/>
<line x1="163.00" y1="718.80" x2="186.00" y2="718.80" stroke="#c0c0c0" stroke-width="2.6" stroke-linecap="butt"/>
<line x1="163.00" y1="738.00" x2="186.00" y2="738.00" stroke="#ff0000" stroke-width="3.1" stroke-linecap="butt"/>
<text x="0" y="0" font-size="16.2" font-weight="normal" fill="#000" stroke="#fff" stroke-width="0.2" transform="translate(190.90,724.60) scale(1.0254,1)"><tspan dy="0.00" font-size="16.20">Control</tspan></text>
<text x="0" y="0" font-size="16.2" font-weight="normal" fill="#000" stroke="#fff" stroke-width="0.2" transform="translate(191.38,743.30) scale(1.0060,1)"><tspan dy="0.00" font-size="16.20">TMEM65</tspan></text>
<line x1="99.40" y1="899.60" x2="131.60" y2="899.60" stroke="#000" stroke-width="2.8" stroke-linecap="butt"/>
<text x="0" y="0" font-size="16.2" font-weight="normal" fill="#000" stroke="#fff" stroke-width="0.2" transform="translate(113.38,917.00) scale(1.0235,1)"><tspan dy="0.00" font-size="16.20">5 sec</tspan></text>
<polyline points="234.30,815.50 241.80,815.50 241.80,843.50 234.30,843.50" fill="none" stroke="#000" stroke-width="2.2" stroke-linejoin="miter"/>
<polyline points="234.30,888.60 241.80,888.60 241.80,916.70 234.30,916.70" fill="none" stroke="#000" stroke-width="2.2" stroke-linejoin="miter"/>
<text x="0" y="0" font-size="9.5" font-weight="normal" fill="#000" stroke="#fff" stroke-width="0.1" transform="translate(257.50,864.80) rotate(-90) scale(1.1686,1)"><tspan dy="0.00" font-size="9.50">CGP-37157</tspan></text>
<text x="0" y="0" font-size="9.5" font-weight="normal" fill="#000" stroke="#fff" stroke-width="0.1" transform="translate(257.50,924.45) rotate(-90) scale(1.1085,1)"><tspan dy="0.00" font-size="9.50">DMSO</tspan></text>
<text x="0" y="0" font-size="21.5" font-weight="bold" fill="#000" transform="translate(264.36,680.00) scale(1.1810,1)"><tspan dy="0.00" font-size="21.50">f</tspan></text>
<line x1="313.40" y1="690.00" x2="313.40" y2="886.00" stroke="#000" stroke-width="2.4" stroke-linecap="butt"/>
<line x1="305.20" y1="885.00" x2="449.50" y2="885.00" stroke="#000" stroke-width="2.4" stroke-linecap="butt"/>
<line x1="305.20" y1="885.00" x2="313.40" y2="885.00" stroke="#000" stroke-width="2.2" stroke-linecap="butt"/>
<text x="0" y="0" font-size="11" font-weight="normal" fill="#000" stroke="#fff" stroke-width="0.1" transform="translate(295.49,888.90) scale(1.0600,1)"><tspan dy="0.00" font-size="11.00">0</tspan></text>
<line x1="305.20" y1="841.95" x2="313.40" y2="841.95" stroke="#000" stroke-width="2.2" stroke-linecap="butt"/>
<text x="0" y="0" font-size="11" font-weight="normal" fill="#000" stroke="#fff" stroke-width="0.1" transform="translate(289.13,845.85) scale(1.0600,1)"><tspan dy="0.00" font-size="11.00">50</tspan></text>
<line x1="305.20" y1="798.90" x2="313.40" y2="798.90" stroke="#000" stroke-width="2.2" stroke-linecap="butt"/>
<text x="0" y="0" font-size="11" font-weight="normal" fill="#000" stroke="#fff" stroke-width="0.1" transform="translate(282.51,802.80) scale(1.0600,1)"><tspan dy="0.00" font-size="11.00">100</tspan></text>
<line x1="305.20" y1="755.85" x2="313.40" y2="755.85" stroke="#000" stroke-width="2.2" stroke-linecap="butt"/>
<text x="0" y="0" font-size="11" font-weight="normal" fill="#000" stroke="#fff" stroke-width="0.1" transform="translate(282.51,759.75) scale(1.0600,1)"><tspan dy="0.00" font-size="11.00">150</tspan></text>
<line x1="305.20" y1="712.80" x2="313.40" y2="712.80" stroke="#000" stroke-width="2.2" stroke-linecap="butt"/>
<text x="0" y="0" font-size="11" font-weight="normal" fill="#000" stroke="#fff" stroke-width="0.1" transform="translate(282.51,716.70) scale(1.0600,1)"><tspan dy="0.00" font-size="11.00">200</tspan></text>
<text x="0" y="0" font-size="16.7" font-weight="normal" fill="#000" stroke="#fff" stroke-width="0.2" transform="translate(279.20,828.82) rotate(-90) scale(0.9741,1)"><tspan dy="0.00" font-size="16.70">[Ca</tspan><tspan dy="-6.01" font-size="10.35">2+</tspan><tspan dy="6.01" font-size="16.70">]</tspan><tspan dy="5.01" font-size="10.35">mt</tspan><tspan dy="-5.01" font-size="16.70"> (μM)</tspan></text>
<rect x="323.20" y="805.20" width="18.60" height="79.80" fill="#c0c0c0" stroke="#000" stroke-width="2.4"/>
<line x1="332.50" y1="776.50" x2="332.50" y2="833.00" stroke="#000" stroke-width="2.4" stroke-linecap="butt"/>
<line x1="326.20" y1="776.50" x2="338.80" y2="776.50" stroke="#000" stroke-width="2.6" stroke-linecap="butt"/>
<line x1="326.20" y1="833.00" x2="338.80" y2="833.00" stroke="#000" stroke-width="2.6" stroke-linecap="butt"/>
<circle cx="332.50" cy="735.70" r="2.5" fill="#000"/>
<circle cx="332.50" cy="752.30" r="2.5" fill="#000"/>
<circle cx="332.50" cy="759.50" r="2.5" fill="#000"/>
<circle cx="332.50" cy="763.90" r="2.5" fill="#000"/>
<circle cx="332.50" cy="779.50" r="2.5" fill="#000"/>
<circle cx="333.62" cy="782.80" r="2.5" fill="#000"/>
<circle cx="331.37" cy="786.10" r="2.5" fill="#000"/>
<circle cx="332.52" cy="789.40" r="2.5" fill="#000"/>
<circle cx="333.61" cy="792.70" r="2.5" fill="#000"/>
<circle cx="331.36" cy="796.00" r="2.5" fill="#000"/>
<circle cx="332.54" cy="799.30" r="2.5" fill="#000"/>
<circle cx="333.60" cy="802.60" r="2.5" fill="#000"/>
<circle cx="331.35" cy="805.90" r="2.5" fill="#000"/>
<circle cx="332.57" cy="809.20" r="2.5" fill="#000"/>
<circle cx="333.59" cy="812.50" r="2.5" fill="#000"/>
<circle cx="331.34" cy="815.80" r="2.5" fill="#000"/>
<circle cx="332.59" cy="819.10" r="2.5" fill="#000"/>
<circle cx="333.58" cy="822.40" r="2.5" fill="#000"/>
<circle cx="331.33" cy="825.70" r="2.5" fill="#000"/>
<circle cx="332.61" cy="829.00" r="2.5" fill="#000"/>
<circle cx="333.56" cy="832.30" r="2.5" fill="#000"/>
<circle cx="331.32" cy="835.60" r="2.5" fill="#000"/>
<circle cx="332.63" cy="838.90" r="2.5" fill="#000"/>
<circle cx="333.55" cy="842.20" r="2.5" fill="#000"/>
<circle cx="330.00" cy="782.00" r="2.5" fill="#000"/>
<circle cx="334.60" cy="783.00" r="2.5" fill="#000"/>
<circle cx="330.20" cy="795.00" r="2.5" fill="#000"/>
<circle cx="334.50" cy="797.00" r="2.5" fill="#000"/>
<circle cx="330.00" cy="815.00" r="2.5" fill="#000"/>
<circle cx="334.70" cy="816.00" r="2.5" fill="#000"/>
<circle cx="330.30" cy="822.00" r="2.5" fill="#000"/>
<circle cx="334.40" cy="828.00" r="2.5" fill="#000"/>
<circle cx="331.00" cy="838.00" r="2.5" fill="#000"/>
<rect x="351.70" y="855.40" width="18.60" height="29.60" fill="#ff0000" stroke="#000" stroke-width="2.4"/>
<line x1="361.00" y1="837.30" x2="361.00" y2="868.00" stroke="#000" stroke-width="2.4" stroke-linecap="butt"/>
<line x1="354.70" y1="837.30" x2="367.30" y2="837.30" stroke="#000" stroke-width="2.6" stroke-linecap="butt"/>
<line x1="354.70" y1="868.00" x2="367.30" y2="868.00" stroke="#000" stroke-width="2.6" stroke-linecap="butt"/>
<circle cx="361.00" cy="799.30" r="2.5" fill="#000"/>
<circle cx="361.00" cy="806.50" r="2.5" fill="#000"/>
<circle cx="361.00" cy="815.70" r="2.5" fill="#000"/>
<circle cx="362.55" cy="843.50" r="2.5" fill="#000"/>
<circle cx="361.80" cy="846.10" r="2.5" fill="#000"/>
<circle cx="358.64" cy="848.70" r="2.5" fill="#000"/>
<circle cx="362.58" cy="851.30" r="2.5" fill="#000"/>
<circle cx="361.77" cy="853.90" r="2.5" fill="#000"/>
<circle cx="358.65" cy="856.50" r="2.5" fill="#000"/>
<circle cx="362.61" cy="859.10" r="2.5" fill="#000"/>
<circle cx="361.73" cy="861.70" r="2.5" fill="#000"/>
<circle cx="358.66" cy="864.30" r="2.5" fill="#000"/>
<circle cx="362.64" cy="866.90" r="2.5" fill="#000"/>
<circle cx="361.69" cy="869.50" r="2.5" fill="#000"/>
<circle cx="358.67" cy="872.10" r="2.5" fill="#000"/>
<circle cx="362.67" cy="874.70" r="2.5" fill="#000"/>
<circle cx="357.50" cy="848.00" r="2.5" fill="#000"/>
<circle cx="364.50" cy="852.00" r="2.5" fill="#000"/>
<circle cx="357.00" cy="860.00" r="2.5" fill="#000"/>
<circle cx="364.80" cy="864.00" r="2.5" fill="#000"/>
<circle cx="358.00" cy="870.00" r="2.5" fill="#000"/>
<circle cx="364.00" cy="873.00" r="2.5" fill="#000"/>
<circle cx="361.00" cy="876.00" r="2.5" fill="#000"/>
<rect x="393.00" y="780.70" width="18.60" height="104.30" fill="#c0c0c0" stroke="#000" stroke-width="2.4"/>
<line x1="402.30" y1="761.20" x2="402.30" y2="798.50" stroke="#000" stroke-width="2.4" stroke-linecap="butt"/>
<line x1="396.00" y1="761.20" x2="408.60" y2="761.20" stroke="#000" stroke-width="2.6" stroke-linecap="butt"/>
<line x1="396.00" y1="798.50" x2="408.60" y2="798.50" stroke="#000" stroke-width="2.6" stroke-linecap="butt"/>
<circle cx="402.30" cy="730.60" r="2.5" fill="#000"/>
<circle cx="402.30" cy="748.70" r="2.5" fill="#000"/>
<circle cx="402.30" cy="751.30" r="2.5" fill="#000"/>
<circle cx="402.30" cy="754.80" r="2.5" fill="#000"/>
<circle cx="402.30" cy="765.00" r="2.5" fill="#000"/>
<circle cx="403.51" cy="768.20" r="2.5" fill="#000"/>
<circle cx="401.08" cy="771.40" r="2.5" fill="#000"/>
<circle cx="402.32" cy="774.60" r="2.5" fill="#000"/>
<circle cx="403.50" cy="777.80" r="2.5" fill="#000"/>
<circle cx="401.07" cy="781.00" r="2.5" fill="#000"/>
<circle cx="402.35" cy="784.20" r="2.5" fill="#000"/>
<circle cx="403.48" cy="787.40" r="2.5" fill="#000"/>
<circle cx="401.06" cy="790.60" r="2.5" fill="#000"/>
<circle cx="402.37" cy="793.80" r="2.5" fill="#000"/>
<circle cx="403.47" cy="797.00" r="2.5" fill="#000"/>
<circle cx="399.50" cy="788.40" r="2.5" fill="#000"/>
<circle cx="405.00" cy="788.40" r="2.5" fill="#000"/>
<circle cx="399.60" cy="793.60" r="2.5" fill="#000"/>
<circle cx="405.00" cy="793.60" r="2.5" fill="#000"/>
<circle cx="402.30" cy="807.10" r="2.5" fill="#000"/>
<circle cx="402.30" cy="815.20" r="2.5" fill="#000"/>
<rect x="421.20" y="769.30" width="18.60" height="115.70" fill="#ff0000" stroke="#000" stroke-width="2.4"/>
<line x1="430.50" y1="734.00" x2="430.50" y2="802.30" stroke="#000" stroke-width="2.4" stroke-linecap="butt"/>
<line x1="424.20" y1="734.00" x2="436.80" y2="734.00" stroke="#000" stroke-width="2.6" stroke-linecap="butt"/>
<line x1="424.20" y1="802.30" x2="436.80" y2="802.30" stroke="#000" stroke-width="2.6" stroke-linecap="butt"/>
<circle cx="430.50" cy="700.00" r="2.5" fill="#000"/>
<circle cx="429.60" cy="707.30" r="2.5" fill="#000"/>
<circle cx="430.50" cy="709.30" r="2.5" fill="#000"/>
<circle cx="430.50" cy="719.00" r="2.5" fill="#000"/>
<circle cx="430.50" cy="731.10" r="2.5" fill="#000"/>
<circle cx="430.50" cy="740.00" r="2.5" fill="#000"/>
<circle cx="430.50" cy="745.30" r="2.5" fill="#000"/>
<circle cx="430.50" cy="750.50" r="2.5" fill="#000"/>
<circle cx="432.28" cy="768.00" r="2.5" fill="#000"/>
<circle cx="430.38" cy="771.00" r="2.5" fill="#000"/>
<circle cx="428.84" cy="774.00" r="2.5" fill="#000"/>
<circle cx="432.30" cy="777.00" r="2.5" fill="#000"/>
<circle cx="430.35" cy="780.00" r="2.5" fill="#000"/>
<circle cx="428.85" cy="783.00" r="2.5" fill="#000"/>
<circle cx="432.31" cy="786.00" r="2.5" fill="#000"/>
<circle cx="430.32" cy="789.00" r="2.5" fill="#000"/>
<circle cx="428.87" cy="792.00" r="2.5" fill="#000"/>
<circle cx="432.33" cy="795.00" r="2.5" fill="#000"/>
<circle cx="430.28" cy="798.00" r="2.5" fill="#000"/>
<circle cx="428.89" cy="801.00" r="2.5" fill="#000"/>
<circle cx="432.34" cy="804.00" r="2.5" fill="#000"/>
<circle cx="430.25" cy="807.00" r="2.5" fill="#000"/>
<circle cx="428.91" cy="810.00" r="2.5" fill="#000"/>
<circle cx="432.35" cy="813.00" r="2.5" fill="#000"/>
<circle cx="427.50" cy="776.00" r="2.5" fill="#000"/>
<circle cx="433.50" cy="780.00" r="2.5" fill="#000"/>
<circle cx="427.60" cy="790.00" r="2.5" fill="#000"/>
<circle cx="433.40" cy="795.00" r="2.5" fill="#000"/>
<circle cx="428.00" cy="806.00" r="2.5" fill="#000"/>
<circle cx="433.00" cy="810.00" r="2.5" fill="#000"/>
<circle cx="430.50" cy="835.10" r="2.5" fill="#000"/>
<polyline points="332.00,728.90 332.00,707.40 359.30,707.40 359.30,789.40" fill="none" stroke="#231f20" stroke-width="2.6" stroke-linejoin="miter"/>
<text x="0" y="0" font-size="14" font-weight="normal" fill="#000" transform="translate(340.71,709.19) scale(1.4271,1.2375)"><tspan dy="0.00" font-size="14.00">*</tspan></text>
<text x="0" y="0" font-size="16.2" font-weight="normal" fill="#000" stroke="#fff" stroke-width="0.2" transform="translate(318.47,911.80) scale(1.0280,1)"><tspan dy="0.00" font-size="16.20">DMSO</tspan></text>
<text x="0" y="0" font-size="16.2" font-weight="normal" fill="#000" stroke="#fff" stroke-width="0.2" transform="translate(397.11,901.20) scale(1.0226,1)"><tspan dy="0.00" font-size="16.20">CGP-</tspan></text>
<text x="0" y="0" font-size="16.2" font-weight="normal" fill="#000" stroke="#fff" stroke-width="0.2" transform="translate(393.70,921.50) scale(1.0357,1)"><tspan dy="0.00" font-size="16.20">37157</tspan></text>
<text x="0" y="0" font-size="21.5" font-weight="bold" fill="#000" transform="translate(450.68,679.70) scale(1.0238,1)"><tspan dy="0.00" font-size="21.50">g</tspan></text>
<line x1="508.80" y1="698.00" x2="508.80" y2="893.80" stroke="#000" stroke-width="2.4" stroke-linecap="butt"/>
<line x1="501.00" y1="892.80" x2="680.50" y2="892.80" stroke="#000" stroke-width="2.4" stroke-linecap="butt"/>
<line x1="501.00" y1="892.80" x2="508.80" y2="892.80" stroke="#000" stroke-width="2.2" stroke-linecap="butt"/>
<text x="0" y="0" font-size="9.8" font-weight="normal" fill="#000" stroke="#fff" stroke-width="0.1" transform="translate(482.95,896.40) scale(1.0800,1)"><tspan dy="0.00" font-size="9.80">0.0</tspan></text>
<line x1="501.00" y1="853.80" x2="508.80" y2="853.80" stroke="#000" stroke-width="2.2" stroke-linecap="butt"/>
<text x="0" y="0" font-size="9.8" font-weight="normal" fill="#000" stroke="#fff" stroke-width="0.1" transform="translate(483.12,857.40) scale(1.0800,1)"><tspan dy="0.00" font-size="9.80">0.2</tspan></text>
<line x1="501.00" y1="814.80" x2="508.80" y2="814.80" stroke="#000" stroke-width="2.2" stroke-linecap="butt"/>
<text x="0" y="0" font-size="9.8" font-weight="normal" fill="#000" stroke="#fff" stroke-width="0.1" transform="translate(483.24,818.40) scale(1.0800,1)"><tspan dy="0.00" font-size="9.80">0.4</tspan></text>
<line x1="501.00" y1="775.80" x2="508.80" y2="775.80" stroke="#000" stroke-width="2.2" stroke-linecap="butt"/>
<text x="0" y="0" font-size="9.8" font-weight="normal" fill="#000" stroke="#fff" stroke-width="0.1" transform="translate(483.08,779.40) scale(1.0800,1)"><tspan dy="0.00" font-size="9.80">0.6</tspan></text>
<line x1="501.00" y1="736.80" x2="508.80" y2="736.80" stroke="#000" stroke-width="2.2" stroke-linecap="butt"/>
<text x="0" y="0" font-size="9.8" font-weight="normal" fill="#000" stroke="#fff" stroke-width="0.1" transform="translate(483.08,740.40) scale(1.0800,1)"><tspan dy="0.00" font-size="9.80">0.8</tspan></text>
<line x1="501.00" y1="697.80" x2="508.80" y2="697.80" stroke="#000" stroke-width="2.2" stroke-linecap="butt"/>
<text x="0" y="0" font-size="9.8" font-weight="normal" fill="#000" stroke="#fff" stroke-width="0.1" transform="translate(482.95,701.40) scale(1.0800,1)"><tspan dy="0.00" font-size="9.80">1.0</tspan></text>
<text x="0" y="0" font-size="17" font-weight="normal" fill="#000" stroke="#fff" stroke-width="0.2" transform="translate(477.20,898.08) rotate(-90) scale(0.9606,1)"><tspan dy="0.00" font-size="17.00">Normalized Ca</tspan><tspan dy="-6.12" font-size="10.54">2+</tspan><tspan dy="6.12" font-size="17.00"> efflux (sec</tspan><tspan dy="-6.12" font-size="10.54">-1</tspan><tspan dy="6.12" font-size="17.00">)</tspan></text>
<rect x="524.30" y="797.20" width="17.40" height="95.60" fill="#c0c0c0" stroke="#231f20" stroke-width="2.4"/>
<circle cx="533.00" cy="793.50" r="2.7" fill="#231f20"/>
<circle cx="527.00" cy="797.20" r="2.7" fill="#231f20"/>
<circle cx="539.00" cy="797.20" r="2.7" fill="#231f20"/>
<circle cx="530.00" cy="799.50" r="2.7" fill="#231f20"/>
<circle cx="536.00" cy="799.50" r="2.7" fill="#231f20"/>
<circle cx="526.50" cy="801.80" r="2.7" fill="#231f20"/>
<circle cx="539.50" cy="801.80" r="2.7" fill="#231f20"/>
<circle cx="533.00" cy="801.80" r="2.7" fill="#231f20"/>
<rect x="546.20" y="736.60" width="17.00" height="156.20" fill="#ed1c24" stroke="#231f20" stroke-width="2.4"/>
<line x1="554.70" y1="717.20" x2="554.70" y2="754.90" stroke="#231f20" stroke-width="2.4" stroke-linecap="butt"/>
<line x1="549.70" y1="717.20" x2="559.70" y2="717.20" stroke="#231f20" stroke-width="2.6" stroke-linecap="butt"/>
<line x1="549.70" y1="754.90" x2="559.70" y2="754.90" stroke="#231f20" stroke-width="2.6" stroke-linecap="butt"/>
<circle cx="555.00" cy="705.60" r="2.7" fill="#231f20"/>
<circle cx="555.00" cy="714.60" r="2.7" fill="#231f20"/>
<circle cx="552.50" cy="717.20" r="2.7" fill="#231f20"/>
<circle cx="557.50" cy="717.20" r="2.7" fill="#231f20"/>
<circle cx="555.00" cy="733.50" r="2.7" fill="#231f20"/>
<circle cx="553.00" cy="737.00" r="2.7" fill="#231f20"/>
<circle cx="557.00" cy="737.00" r="2.7" fill="#231f20"/>
<circle cx="555.00" cy="740.00" r="2.7" fill="#231f20"/>
<circle cx="553.00" cy="743.50" r="2.7" fill="#231f20"/>
<circle cx="557.00" cy="743.50" r="2.7" fill="#231f20"/>
<circle cx="555.00" cy="747.00" r="2.7" fill="#231f20"/>
<circle cx="555.00" cy="750.00" r="2.7" fill="#231f20"/>
<circle cx="555.00" cy="762.00" r="2.7" fill="#231f20"/>
<circle cx="555.00" cy="771.50" r="2.7" fill="#231f20"/>
<rect x="577.20" y="832.10" width="17.00" height="60.70" fill="#c0c0c0" stroke="#231f20" stroke-width="2.4"/>
<circle cx="586.00" cy="828.00" r="2.7" fill="#231f20"/>
<circle cx="581.50" cy="831.50" r="2.7" fill="#231f20"/>
<circle cx="590.50" cy="831.50" r="2.7" fill="#231f20"/>
<circle cx="586.00" cy="833.00" r="2.7" fill="#231f20"/>
<circle cx="583.50" cy="837.00" r="2.7" fill="#231f20"/>
<circle cx="588.50" cy="837.00" r="2.7" fill="#231f20"/>
<circle cx="586.00" cy="840.00" r="2.7" fill="#231f20"/>
<rect x="599.10" y="818.30" width="17.10" height="74.50" fill="#ed1c24" stroke="#231f20" stroke-width="2.4"/>
<line x1="607.65" y1="806.00" x2="607.65" y2="832.00" stroke="#231f20" stroke-width="2.4" stroke-linecap="butt"/>
<line x1="602.65" y1="806.00" x2="612.65" y2="806.00" stroke="#231f20" stroke-width="2.6" stroke-linecap="butt"/>
<line x1="602.65" y1="832.00" x2="612.65" y2="832.00" stroke="#231f20" stroke-width="2.6" stroke-linecap="butt"/>
<circle cx="607.60" cy="798.80" r="2.7" fill="#231f20"/>
<circle cx="607.60" cy="805.50" r="2.7" fill="#231f20"/>
<circle cx="605.00" cy="808.50" r="2.7" fill="#231f20"/>
<circle cx="610.20" cy="808.50" r="2.7" fill="#231f20"/>
<circle cx="607.60" cy="820.50" r="2.7" fill="#231f20"/>
<circle cx="605.50" cy="824.00" r="2.7" fill="#231f20"/>
<circle cx="609.70" cy="824.00" r="2.7" fill="#231f20"/>
<circle cx="607.60" cy="827.00" r="2.7" fill="#231f20"/>
<circle cx="602.50" cy="832.00" r="2.7" fill="#231f20"/>
<circle cx="606.00" cy="832.00" r="2.7" fill="#231f20"/>
<circle cx="609.50" cy="832.00" r="2.7" fill="#231f20"/>
<circle cx="613.00" cy="832.00" r="2.7" fill="#231f20"/>
<rect x="630.30" y="837.10" width="17.00" height="55.70" fill="#c0c0c0" stroke="#231f20" stroke-width="2.4"/>
<circle cx="638.80" cy="827.10" r="2.7" fill="#231f20"/>
<circle cx="638.80" cy="831.50" r="2.7" fill="#231f20"/>
<circle cx="633.50" cy="840.00" r="2.7" fill="#231f20"/>
<circle cx="637.00" cy="840.00" r="2.7" fill="#231f20"/>
<circle cx="640.50" cy="840.00" r="2.7" fill="#231f20"/>
<circle cx="644.00" cy="840.00" r="2.7" fill="#231f20"/>
<circle cx="636.50" cy="844.00" r="2.7" fill="#231f20"/>
<circle cx="641.00" cy="844.00" r="2.7" fill="#231f20"/>
<circle cx="638.80" cy="846.50" r="2.7" fill="#231f20"/>
<rect x="652.50" y="831.50" width="16.60" height="61.30" fill="#ed1c24" stroke="#231f20" stroke-width="2.4"/>
<circle cx="660.80" cy="821.30" r="2.7" fill="#231f20"/>
<circle cx="660.80" cy="824.80" r="2.7" fill="#231f20"/>
<circle cx="656.00" cy="832.00" r="2.7" fill="#231f20"/>
<circle cx="660.80" cy="831.00" r="2.7" fill="#231f20"/>
<circle cx="665.50" cy="832.00" r="2.7" fill="#231f20"/>
<circle cx="655.50" cy="837.00" r="2.7" fill="#231f20"/>
<circle cx="659.00" cy="837.00" r="2.7" fill="#231f20"/>
<circle cx="662.50" cy="837.00" r="2.7" fill="#231f20"/>
<circle cx="666.00" cy="837.00" r="2.7" fill="#231f20"/>
<circle cx="658.50" cy="840.50" r="2.7" fill="#231f20"/>
<circle cx="663.00" cy="840.50" r="2.7" fill="#231f20"/>
<polyline points="533.50,752.10 533.50,679.90 554.80,679.90 554.80,700.20" fill="none" stroke="#231f20" stroke-width="2.5" stroke-linejoin="miter"/>
<text x="0" y="0" font-size="14" font-weight="normal" fill="#000" transform="translate(539.82,681.67) scale(1.4007,1.2150)"><tspan dy="0.00" font-size="14.00">*</tspan></text>
<polyline points="585.50,802.70 585.50,768.40 606.80,768.40 606.80,788.80" fill="none" stroke="#231f20" stroke-width="2.5" stroke-linejoin="miter"/>
<text x="0" y="0" font-size="14" font-weight="normal" fill="#000" transform="translate(591.82,769.67) scale(1.4007,1.2150)"><tspan dy="0.00" font-size="14.00">*</tspan></text>
<polyline points="638.20,812.40 638.20,792.30 659.50,792.30 659.50,812.40" fill="none" stroke="#231f20" stroke-width="2.5" stroke-linejoin="miter"/>
<text x="0" y="0" font-size="15.5" font-weight="normal" fill="#000" stroke="#fff" stroke-width="0.2" transform="translate(640.33,788.90) scale(1.0889,1)"><tspan dy="0.00" font-size="15.50">ns</tspan></text>
<rect x="587.40" y="676.00" width="15.40" height="14.40" fill="#c0c0c0" stroke="#231f20" stroke-width="2"/>
<rect x="587.40" y="699.00" width="15.40" height="14.80" fill="#ed1c24" stroke="#231f20" stroke-width="2"/>
<text x="0" y="0" font-size="16.2" font-weight="normal" fill="#000" stroke="#fff" stroke-width="0.2" transform="translate(604.41,687.70) scale(1.0135,1)"><tspan dy="0.00" font-size="16.20">Control</tspan></text>
<text x="0" y="0" font-size="16.2" font-weight="normal" fill="#000" stroke="#fff" stroke-width="0.2" transform="translate(605.98,710.50) scale(1.0091,1)"><tspan dy="0.00" font-size="16.20">TMEM65</tspan></text>
<text x="0" y="0" font-size="16.2" font-weight="normal" fill="#000" stroke="#fff" stroke-width="0.2" transform="translate(455.30,916.60) scale(1.0239,1)"><tspan dy="0.00" font-size="16.20">CGP (μM)</tspan></text>
<text x="0" y="0" font-size="16.2" font-weight="normal" fill="#000" stroke="#fff" stroke-width="0.2" transform="translate(537.00,916.60) scale(1.1570,1)"><tspan dy="0.00" font-size="16.20">0</tspan></text>
<text x="0" y="0" font-size="16.2" font-weight="normal" fill="#000" stroke="#fff" stroke-width="0.2" transform="translate(587.03,916.60) scale(1.1085,1)"><tspan dy="0.00" font-size="16.20">20</tspan></text>
<text x="0" y="0" font-size="16.2" font-weight="normal" fill="#000" stroke="#fff" stroke-width="0.2" transform="translate(640.20,916.60) scale(1.1099,1)"><tspan dy="0.00" font-size="16.20">50</tspan></text>
</svg></body></html>
